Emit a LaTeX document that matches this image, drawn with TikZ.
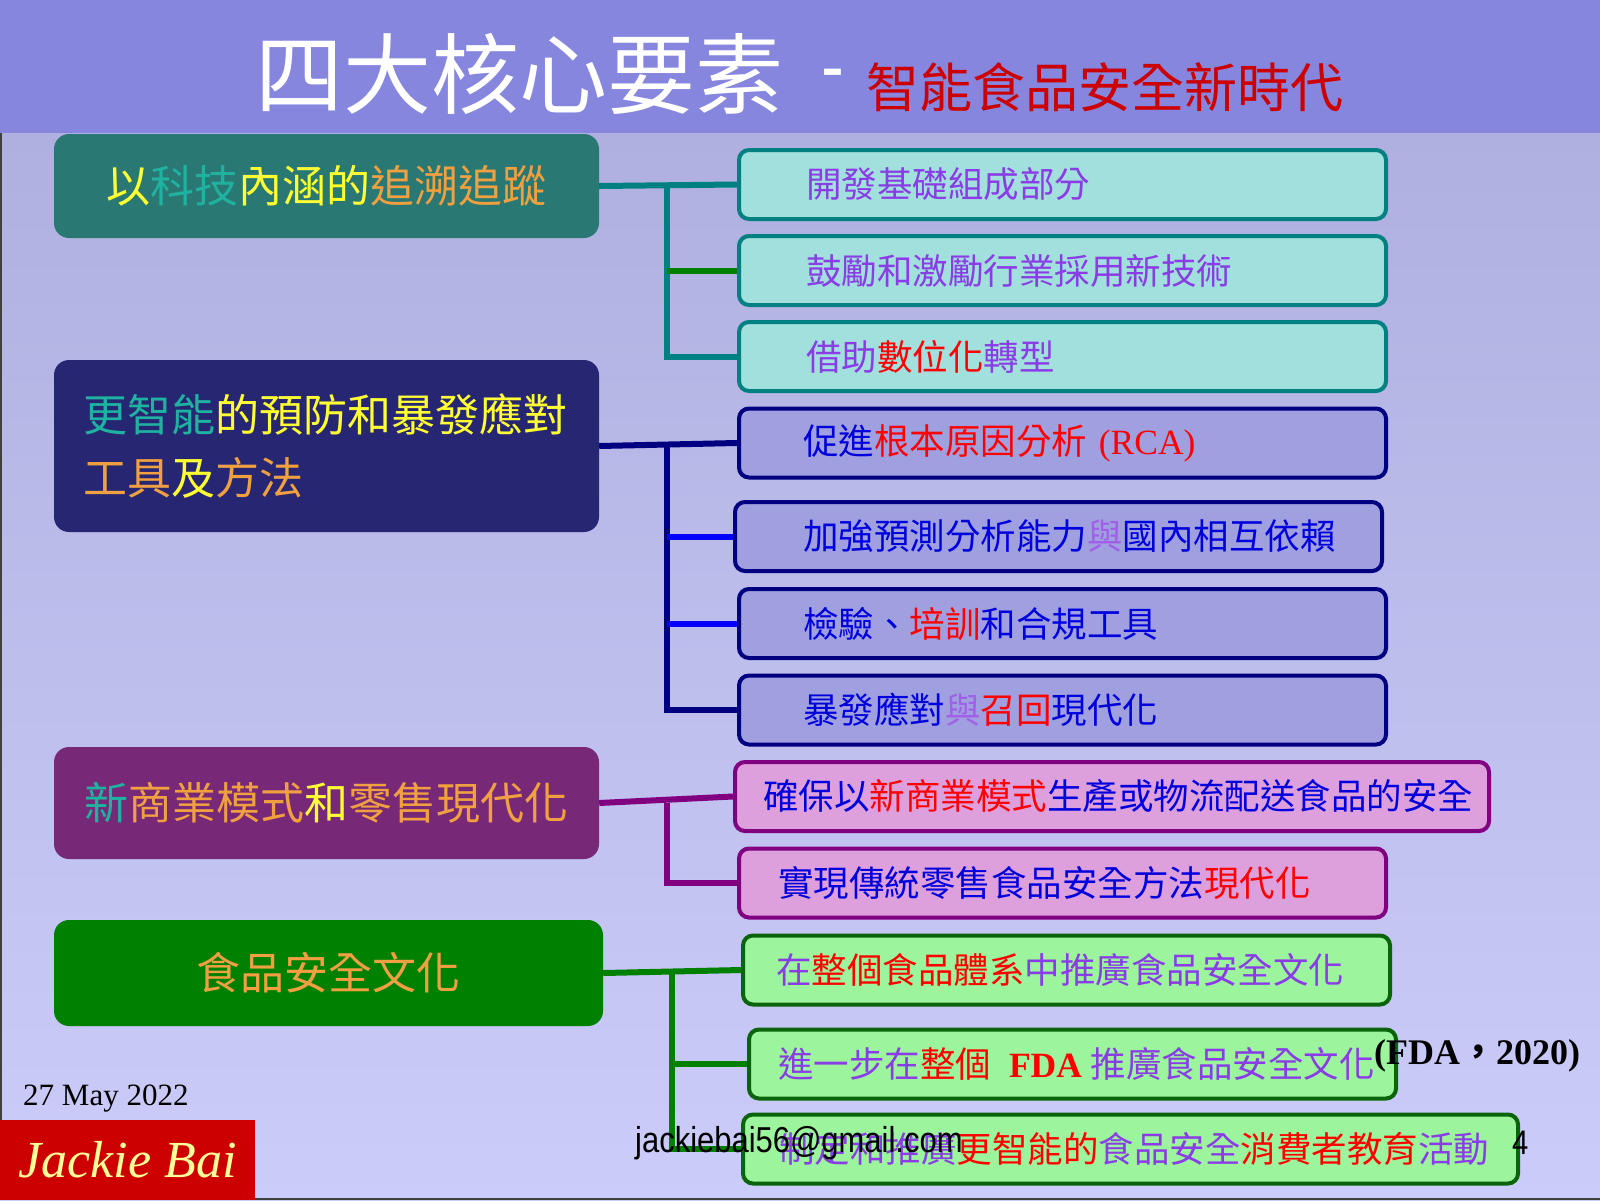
\documentclass[tikz,border=0pt]{standalone}
\usepackage{fontspec}
\usetikzlibrary{backgrounds}
\setmainfont{Liberation Serif}
\newfontfamily\cjk{Noto Sans CJK TC}
\newfontfamily\narrowsans[FakeStretch=0.86]{Liberation Sans}
\pgfdeclarelayer{canvas}
\pgfsetlayers{canvas,background,main}
\begin{document}
\begin{tikzpicture}[x=1pt,y=-1pt,
  lbox/.style={rounded corners=15pt,minimum width=545pt,inner sep=0pt,
    font=\cjk\fontsize{44}{63}\selectfont},
  rbox/.style={anchor=west,rounded corners=10pt,line width=4pt,inner xsep=0pt,
    minimum height=69pt,text width=#1,align=left,
    font=\cjk\fontsize{35.5}{40}\selectfont},
  tbox/.style={rbox=#1,draw=lnteal,fill=fillcyan,text=txvio},
  sbox/.style={rbox=#1,draw=lnnavy,fill=filllav,text=txblu},
  pbox/.style={rbox=#1,draw=lnplum,fill=fillpink,text=txblu},
  gbox/.style={rbox=#1,draw=edgegreen,fill=fillgreen,text=txvio},
  bus/.style={line width=6pt}]
\definecolor{hdr}{HTML}{8686DF}
\definecolor{bgtop}{HTML}{B0B0E0}
\definecolor{bgbot}{HTML}{CCCCFA}
\definecolor{ttlred}{HTML}{CC0000}
\definecolor{boxteal}{HTML}{2A7873}
\definecolor{boxnavy}{HTML}{262673}
\definecolor{boxplum}{HTML}{772877}
\definecolor{boxgreen}{HTML}{008000}
\definecolor{fillcyan}{HTML}{A2E0DE}
\definecolor{filllav}{HTML}{A0A0E0}
\definecolor{fillpink}{HTML}{DDA0DD}
\definecolor{fillgreen}{HTML}{9CF59C}
\definecolor{lnteal}{HTML}{008080}
\definecolor{lnnavy}{HTML}{000080}
\definecolor{lnplum}{HTML}{800080}
\definecolor{lngreen}{HTML}{008000}
\definecolor{lnblue}{HTML}{0000FF}
\definecolor{edgegreen}{HTML}{0A640A}
\definecolor{txyel}{HTML}{FFFF33}
\definecolor{txsea}{HTML}{20B2A0}
\definecolor{txorg}{HTML}{F0A040}
\definecolor{txvio}{HTML}{8A3CE6}
\definecolor{txlil}{HTML}{A060E8}
\definecolor{txblu}{HTML}{0000DD}
\definecolor{txred}{HTML}{FF0000}
\definecolor{jbred}{HTML}{CC0000}
\definecolor{jbyel}{HTML}{FFFF99}
\useasboundingbox (0,0) rectangle (1600,1200);
% background and header band
\begin{pgfonlayer}{canvas}
\shade[top color=bgtop,bottom color=bgbot] (0,133) rectangle (1600,1200);
\fill[hdr] (0,0) rectangle (1600,133);
\draw[line width=2pt,black!75] (1,133) -- (1,1199) -- (1600,1199);
\end{pgfonlayer}
\node[anchor=base west,inner sep=0pt,text=white] (title) at (255,107)
  {\cjk\fontsize{88}{88}\selectfont 四大核心要素\hspace{38pt}\raisebox{14pt}{\narrowsans\fontsize{80}{80}\selectfont -}\hspace{22pt}{\color{ttlred}\fontsize{53}{53}\selectfont 智能食品安全新時代}};
% bus positions
\coordinate (tbus) at (667,0);
\coordinate (gbus) at (672,0);
% left boxes
\node[lbox,fill=boxteal,minimum height=104pt] (trace) at (326.5,186)
  {{\color{txyel}以}{\color{txsea}科技}{\color{txyel}內涵的}{\color{txorg}追溯追蹤}};
\node[lbox,fill=boxnavy,minimum height=172pt,text width=487pt,align=left] (smart) at (326.5,446)
  {{\color{txsea}更智能}{\color{txyel}的預防和暴發應對}\\{\color{txorg}工具}{\color{txyel}及}{\color{txorg}方法}};
\node[lbox,fill=boxplum,minimum height=112pt] (retail) at (326.5,803)
  {{\color{txsea}新}{\color{txorg}商業模式}{\color{txyel}和}{\color{txorg}零售現代化}};
\node[lbox,fill=boxgreen,minimum width=549pt,minimum height=106pt,text=txorg] (culture) at (328.5,973)
  {食品安全文化};
% right boxes
\node[tbox=647pt] (t1) at (737,184.5) {\hspace*{67pt}開發基礎組成部分};
\node[tbox=647pt] (t2) at (737,270.5) {\hspace*{67pt}鼓勵和激勵行業採用新技術};
\node[tbox=647pt] (t3) at (737,356.5) {\hspace*{67pt}借助{\color{txred}數位化}轉型};
\node[sbox=647pt] (s1) at (737,443) {\hspace*{64pt}促進{\color{txred}根本原因分析 {\rmfamily (RCA)}}};
\node[sbox=647pt] (s2) at (733,536.5) {\hspace*{68pt}加強預測分析能力{\color{txlil}與}國內相互依賴};
\node[sbox=647pt] (s3) at (737,623.5) {\hspace*{64pt}檢驗、{\color{txred}培訓}和合規工具};
\node[sbox=647pt] (s4) at (737,710) {\hspace*{64pt}暴發應對{\color{txlil}與}{\color{txred}召回}現代化};
\node[pbox=754pt] (r1) at (733,796.5) {\hspace*{28pt}確保以{\color{txred}新商業模式}生產或物流配送食品的安全};
\node[pbox=647pt] (r2) at (737,883) {\hspace*{39pt}實現傳統零售食品安全方法{\color{txred}現代化}};
\node[gbox=647pt] (c1) at (741,970) {\hspace*{33pt}在{\color{txred}整個食品體系}中推廣食品安全文化};
\node[gbox=647pt] (c2) at (747,1064) {\hspace*{29pt}進一步在{\color{txred}整個\hspace{18pt}{\rmfamily\bfseries FDA}}\hspace{9pt}推廣食品安全文化};
\node[gbox=775pt] (c3) at (741,1149) {\hspace*{36pt}制定和推廣{\color{txred}更智能的}食品安全{\color{txred}消費者教育}活動};
% connectors
\begin{scope}[on background layer]
\draw[bus,lnteal] (trace.east) -- (t1.west);
\draw[bus,lnteal] (trace.east -| tbus) |- (t3.west);
\draw[bus,lngreen] (t2.west -| tbus) -- (t2.west);
\draw[bus,lnnavy] (smart.east) -- (s1.west);
\draw[bus,lnnavy] (smart.east -| tbus) |- (s4.west);
\draw[bus,lnblue] (s2.west -| tbus) -- (s2.west);
\draw[bus,lnblue] (s3.west -| tbus) -- (s3.west);
\draw[bus,lnplum] (retail.east) -- (r1.west);
\draw[bus,lnplum] (retail.east -| tbus) |- (r2.west);
\draw[bus,lngreen] (culture.east) -- (c1.west);
\draw[bus,lngreen] (culture.east -| gbus) |- (c3.west);
\draw[bus,lngreen] (c2.west -| gbus) -- (c2.west);
\end{scope}
% footer texts
\node[anchor=west,inner sep=0pt,font=\bfseries\fontsize{36}{36}\selectfont] (src) at (1374,1056)
  {(FDA{\cjk ，}2020)};
\node[anchor=base west,inner sep=0pt,font=\fontsize{31}{31}\selectfont] (date) at (23,1105) {27 May 2022};
\node[anchor=south west,fill=jbred,minimum width=255pt,minimum height=80pt,text=jbyel,
  font=\itshape\fontsize{52}{52}\selectfont] (author) at (0,1200) {Jackie Bai};
\node[anchor=base west,inner sep=0pt,font=\narrowsans\fontsize{36}{36}\selectfont] (mail) at (635,1152)
  {jackiebai56@gmail.com};
\node[anchor=base west,inner sep=0pt,font=\narrowsans\fontsize{34}{34}\selectfont] (page) at (1512,1154) {4};
\end{tikzpicture}
\end{document}
